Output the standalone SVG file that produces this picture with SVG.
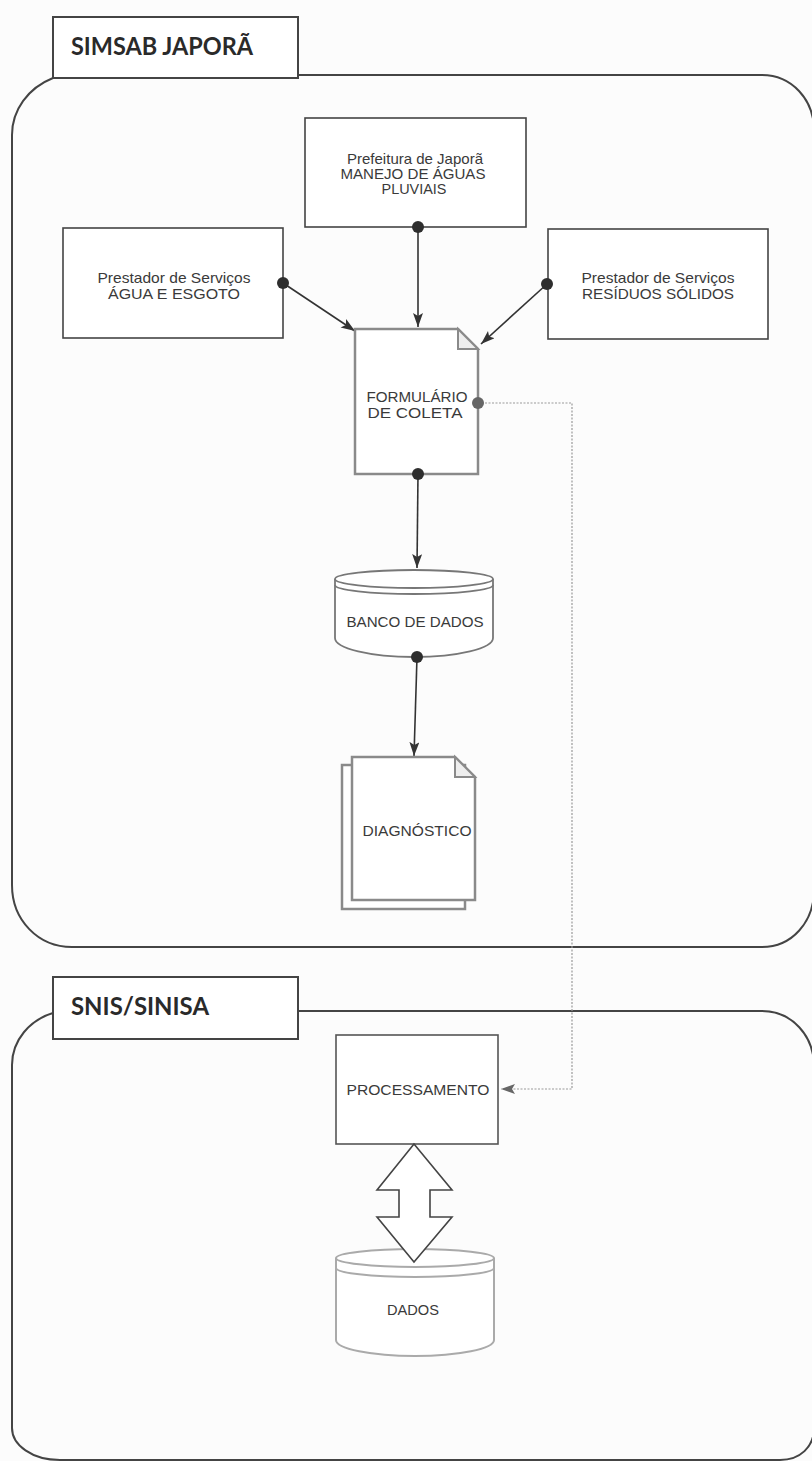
<svg xmlns="http://www.w3.org/2000/svg" width="812" height="1461" viewBox="0 0 812 1461">
  <style>
    .bg { fill: #fcfcfc; }
    .container { fill: none; stroke: #444; stroke-width: 2; }
    .label { fill: #fff; stroke: #444; stroke-width: 2; }
    .title { font-family: Lato, "Open Sans", "Liberation Sans", sans-serif; font-weight: 700; font-size: 25px; fill: #2a2a2a; }
    .box { fill: #fff; stroke: #444; stroke-width: 1.6; }
    .doc { fill: #fff; stroke: #8a8a8a; stroke-width: 2.5; stroke-linejoin: miter; }
    .fold { fill: #eee; stroke: #8a8a8a; stroke-width: 2; }
    .db { fill: #fff; stroke: #777; stroke-width: 1.8; }
    .db2 { fill: #fff; stroke: #aaa; stroke-width: 2; }
    .txt { font-family: "Liberation Sans", Arial, sans-serif; font-size: 15px; fill: #3a3a3a; text-anchor: middle; }
    .conn { fill: none; stroke: #333; stroke-width: 1.6; }
    .dash { fill: none; stroke: #999; stroke-width: 1.2; stroke-dasharray: 2 1.5; }
    .dot { fill: #2e2e2e; }
  </style>
  <defs>
    <marker id="arr" markerWidth="16" markerHeight="12" refX="14" refY="5" orient="auto" markerUnits="userSpaceOnUse">
      <path d="M0,0 L14,5 L0,10 L3,5 Z" fill="#333"/>
    </marker>
    <marker id="arrg" markerWidth="16" markerHeight="12" refX="14" refY="5" orient="auto" markerUnits="userSpaceOnUse">
      <path d="M0,0 L14,5 L0,10 L3,5 Z" fill="#666"/>
    </marker>
  </defs>
  <rect class="bg" x="0" y="0" width="812" height="1461"/>

  <g id="container-simsab">
    <path class="container" d="M298,75 H762 C792,75 814,100 814,130 V890 C814,922 792,947 762,947 H72 C38,947 12,920 12,885 V135 C12,110 28,88 53,78"/>
    <rect class="label" x="53" y="17" width="245" height="61"/>
    <text class="title" x="71" y="55" textLength="182" lengthAdjust="spacingAndGlyphs">SIMSAB JAPORÃ</text>
  </g>

  <g id="container-snis">
    <path class="container" d="M298,1011 H762 C792,1011 814,1036 814,1066 V1428 C814,1447 800,1460 780,1460 H60 C32,1460 12,1445 12,1428 V1065 C12,1040 30,1020 53,1013"/>
    <rect class="label" x="53" y="977" width="245" height="62"/>
    <text class="title" x="71" y="1015" textLength="138" lengthAdjust="spacingAndGlyphs">SNIS/SINISA</text>
  </g>

  <g id="connectors">
    <line class="conn" x1="418" y1="227" x2="418" y2="327" marker-end="url(#arr)"/>
    <line class="conn" x1="283" y1="283" x2="355" y2="331" marker-end="url(#arr)"/>
    <line class="conn" x1="547" y1="284" x2="481" y2="344" marker-end="url(#arr)"/>
    <line class="conn" x1="418" y1="474" x2="417" y2="568" marker-end="url(#arr)"/>
    <line class="conn" x1="417" y1="657" x2="414" y2="756" marker-end="url(#arr)"/>
    <path class="dash" d="M478,403 H572 V1089 H501" marker-end="url(#arrg)"/>
  </g>

  <g id="node-prefeitura">
    <rect class="box" x="305" y="118" width="221" height="109"/>
    <text class="txt" x="415" y="164" textLength="136" lengthAdjust="spacingAndGlyphs">Prefeitura de Japorã</text>
    <text class="txt" x="413" y="179" textLength="145" lengthAdjust="spacingAndGlyphs">MANEJO DE ÁGUAS</text>
    <text class="txt" x="414" y="194" textLength="65" lengthAdjust="spacingAndGlyphs">PLUVIAIS</text>
  </g>

  <g id="node-agua">
    <rect class="box" x="63" y="228" width="220" height="110"/>
    <text class="txt" x="174" y="283" textLength="153" lengthAdjust="spacingAndGlyphs">Prestador de Serviços</text>
    <text class="txt" x="174" y="299" textLength="132" lengthAdjust="spacingAndGlyphs">ÁGUA E ESGOTO</text>
  </g>

  <g id="node-residuos">
    <rect class="box" x="548" y="229" width="220" height="110"/>
    <text class="txt" x="658" y="283" textLength="153" lengthAdjust="spacingAndGlyphs">Prestador de Serviços</text>
    <text class="txt" x="658" y="299" textLength="152" lengthAdjust="spacingAndGlyphs">RESÍDUOS SÓLIDOS</text>
  </g>

  <g id="node-formulario">
    <path class="doc" d="M355,329 H458 L478,349 V474 H355 Z"/>
    <path class="fold" d="M458,329 V349 H478 Z"/>
    <text class="txt" x="417" y="402" textLength="101" lengthAdjust="spacingAndGlyphs">FORMULÁRIO</text>
    <text class="txt" x="415" y="418" textLength="95" lengthAdjust="spacingAndGlyphs">DE COLETA</text>
  </g>

  <g id="node-banco">
    <path class="db" d="M335,579 V638 A79,19 0 0 0 493,638 V579"/>
    <ellipse class="db" cx="414" cy="579" rx="79" ry="9"/>
    <path class="db" fill="none" d="M335,585 A79,9 0 0 0 493,585" style="fill:none"/>
    <text class="txt" x="415" y="627" textLength="137" lengthAdjust="spacingAndGlyphs">BANCO DE DADOS</text>
  </g>

  <g id="node-diagnostico">
    <rect class="doc" x="342" y="765" width="123" height="144"/>
    <path class="doc" d="M352,757 H455 L475,777 V900 H352 Z"/>
    <path class="fold" d="M455,757 V777 H475 Z"/>
    <text class="txt" x="417" y="836" textLength="109" lengthAdjust="spacingAndGlyphs">DIAGNÓSTICO</text>
  </g>

  <g id="node-processamento">
    <rect class="box" x="336" y="1035" width="162" height="109" style="stroke:#555"/>
    <text class="txt" x="418" y="1095" textLength="143" lengthAdjust="spacingAndGlyphs">PROCESSAMENTO</text>
  </g>

  <g id="node-dados">
    <path class="db2" d="M336,1258 V1340 A79,16 0 0 0 494,1340 V1258"/>
    <ellipse class="db2" cx="415" cy="1258" rx="79" ry="9"/>
    <path class="db2" d="M336,1268 A79,9 0 0 0 494,1268" style="fill:none"/>
    <text class="txt" x="413" y="1315" textLength="52" lengthAdjust="spacingAndGlyphs">DADOS</text>
  </g>

  <g id="node-double-arrow">
    <polygon points="414,1144 452,1190 430,1190 430,1217 452,1217 414,1262 377,1217 399,1217 399,1190 377,1190" fill="#fff" stroke="#444" stroke-width="1.6" stroke-linejoin="miter"/>
  </g>

  <g id="dots">
    <circle class="dot" cx="418" cy="227" r="6"/>
    <circle class="dot" cx="283" cy="283" r="6"/>
    <circle class="dot" cx="547" cy="284" r="6"/>
    <circle class="dot" cx="478" cy="403" r="6" style="fill:#666"/>
    <circle class="dot" cx="418" cy="474" r="6"/>
    <circle class="dot" cx="417" cy="657" r="6"/>
  </g>
</svg>
